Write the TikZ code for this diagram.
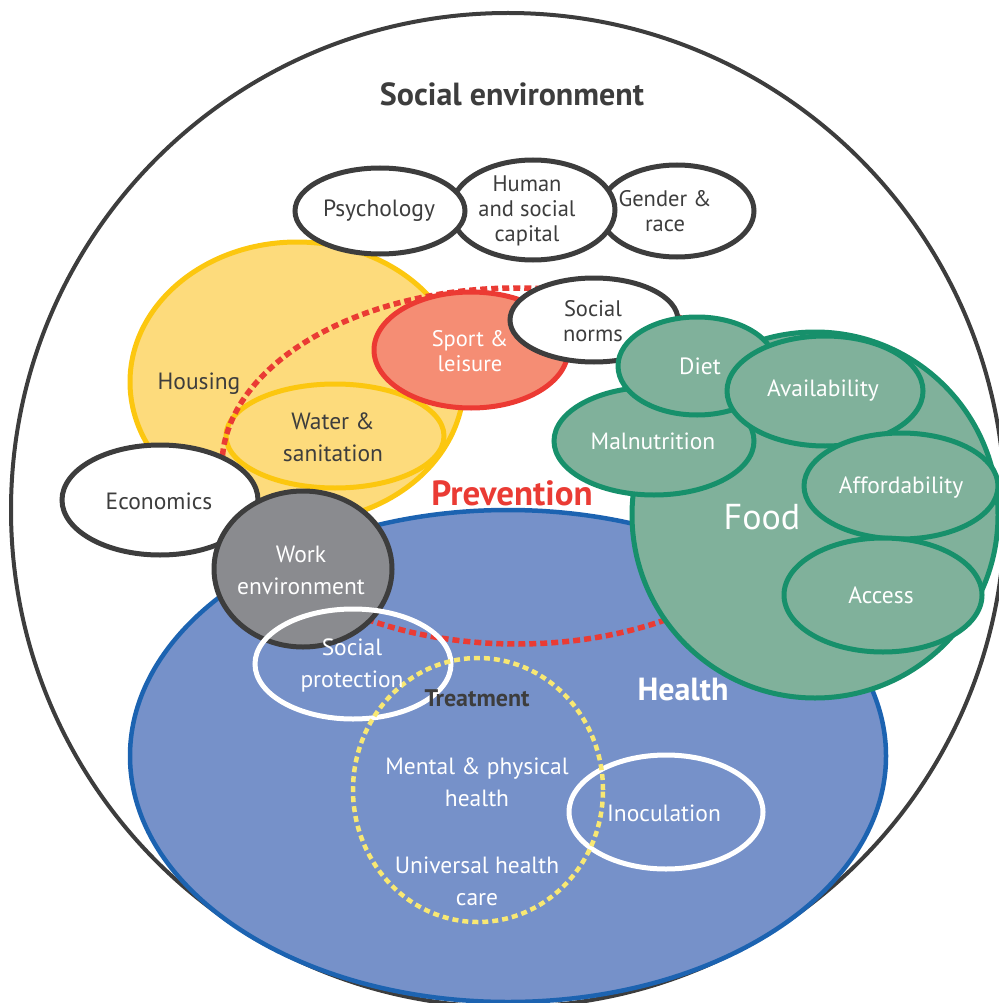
\documentclass[tikz,border=0pt]{standalone}
\usepackage{fontspec}
\setmainfont{PT Sans}
\usepackage{xcolor}
\usetikzlibrary{shapes.geometric}
\definecolor{darkline}{HTML}{3D3D3D}
\definecolor{housefill}{HTML}{FDDB7C}
\definecolor{houseline}{HTML}{FCC70F}
\definecolor{sportfill}{HTML}{F58D74}
\definecolor{sportline}{HTML}{EC3A33}
\definecolor{foodfill}{HTML}{80B19B}
\definecolor{foodline}{HTML}{17906B}
\definecolor{healthfill}{HTML}{7691C9}
\definecolor{healthline}{HTML}{1C63B1}
\definecolor{workfill}{HTML}{8A8B8F}
\definecolor{prevred}{HTML}{EA3B34}
\definecolor{treatyellow}{HTML}{F8E873}

\begin{document}
\begin{tikzpicture}[x=1pt,y=-1pt,
  blob/.style={ellipse,draw=darkline,fill=white,line width=5pt,inner sep=0pt},
  green/.style={blob,draw=foodline,fill=foodfill},
  ring/.style={blob,draw=white,fill=none},
  txt/.style={font=\fontsize{23.5}{32}\selectfont,align=center,text=darkline},
  tight/.style={txt,font=\fontsize{22.5}{25}\selectfont},
  wtxt/.style={txt,text=white},
  head/.style={font=\fontsize{32}{36}\selectfont\bfseries,text=darkline}]
  \useasboundingbox (0,0) rectangle (998,1003);
  \node[circle,draw=darkline,line width=4pt,minimum size=994pt,inner sep=0pt](socenv)at(508,510){};
  \node[blob,line width=4.5pt,draw=healthline,fill=healthfill,minimum width=756pt,minimum height=492pt](health)at(508,756){};
  \node[blob,draw=houseline,fill=housefill,minimum width=334pt,minimum height=280pt](housing)at(297,382){};
  \node[blob,draw=houseline,fill=housefill,minimum width=218pt,minimum height=104pt](water)at(335,436){};
  \node[blob,draw=prevred,fill=none,line width=5.5pt,dash pattern=on 7pt off 4pt,minimum width=590pt,minimum height=356pt](prevent)at(517,466){};
  \node[blob,minimum width=154pt,minimum height=92pt](gender)at(677,211){};
  \node[blob,minimum width=164pt,minimum height=100pt](capital)at(533,210){};
  \node[blob,minimum width=170pt,minimum height=86pt](psych)at(380,211){};
  \node[blob,draw=sportline,fill=sportfill,minimum width=194pt,minimum height=116pt](sport)at(471,350){};
  \node[blob,minimum width=168pt,minimum height=84pt](norms)at(594,320){};
  \node[circle,draw=foodline,fill=foodfill,line width=5pt,minimum size=366pt,inner sep=0pt](food)at(815,515){};
  \node[green,minimum width=200pt,minimum height=108pt](malnut)at(654,441){};
  \node[green,minimum width=158pt,minimum height=98pt](diet)at(697,366){};
  \node[green,minimum width=196pt,minimum height=110pt](avail)at(825,391){};
  \node[green,minimum width=194pt,minimum height=106pt](afford)at(901,486){};
  \node[green,minimum width=198pt,minimum height=114pt](access)at(883,595){};
  \node[blob,minimum width=196pt,minimum height=110pt](econ)at(160,500){};
  \node[blob,fill=workfill,minimum width=178pt,minimum height=156pt](work)at(303,569){};
  \node[ring,minimum width=196pt,minimum height=110pt](protect)at(353,664){};
  \node[ring,minimum width=194pt,minimum height=114pt](inoc)at(666,812){};
  \node[blob,fill=none,draw=treatyellow,line width=4.5pt,dash pattern=on 6pt off 4pt,minimum width=250pt,minimum height=264pt](treat)at(478,790){};

  \node[head](socenvtxt)at(512,94){Social environment};
  \node[txt](psychtxt)at(379,211){Psychology};
  \node[tight](capitaltxt)at(527,211){Human\\and social\\capital};
  \node[tight](gendertxt)at(665,211){Gender \&\\race};
  \node[txt](housingtxt)at(199,384){Housing};
  \node[txt](watertxt)at(333,437){Water \&\\sanitation};
  \node[tight,text=white](sporttxt)at(470,351){Sport \&\\leisure};
  \node[tight](normstxt)at(593,321){Social\\norms};
  \node[wtxt](diettxt)at(700,366){Diet};
  \node[wtxt](availtxt)at(823,391){Availability};
  \node[wtxt](malnuttxt)at(653,441){Malnutrition};
  \node[wtxt](affordtxt)at(901,488){Affordability};
  \node[wtxt,font=\fontsize{36}{40}\selectfont](foodtxt)at(762,517){Food};
  \node[wtxt](accesstxt)at(881,595){Access};
  \node[txt](econtxt)at(159,501){Economics};
  \node[wtxt](worktxt)at(301,570){Work\\environment};
  \node[head,text=prevred,font=\fontsize{35}{38}\selectfont\bfseries](preventtxt)at(512,493){Prevention};
  \node[wtxt](protecttxt)at(352,665){Social\\protection};
  \node[txt,font=\fontsize{24}{28}\selectfont\bfseries](treattxt)at(477,698){Treatment};
  \node[head,text=white](healthtxt)at(683,690){Health};
  \node[wtxt](mentaltxt)at(477,782){Mental \& physical\\health};
  \node[wtxt](uhctxt)at(477,881){Universal health\\care};
  \node[wtxt](inoctxt)at(664,813){Inoculation};
\end{tikzpicture}
\end{document}
